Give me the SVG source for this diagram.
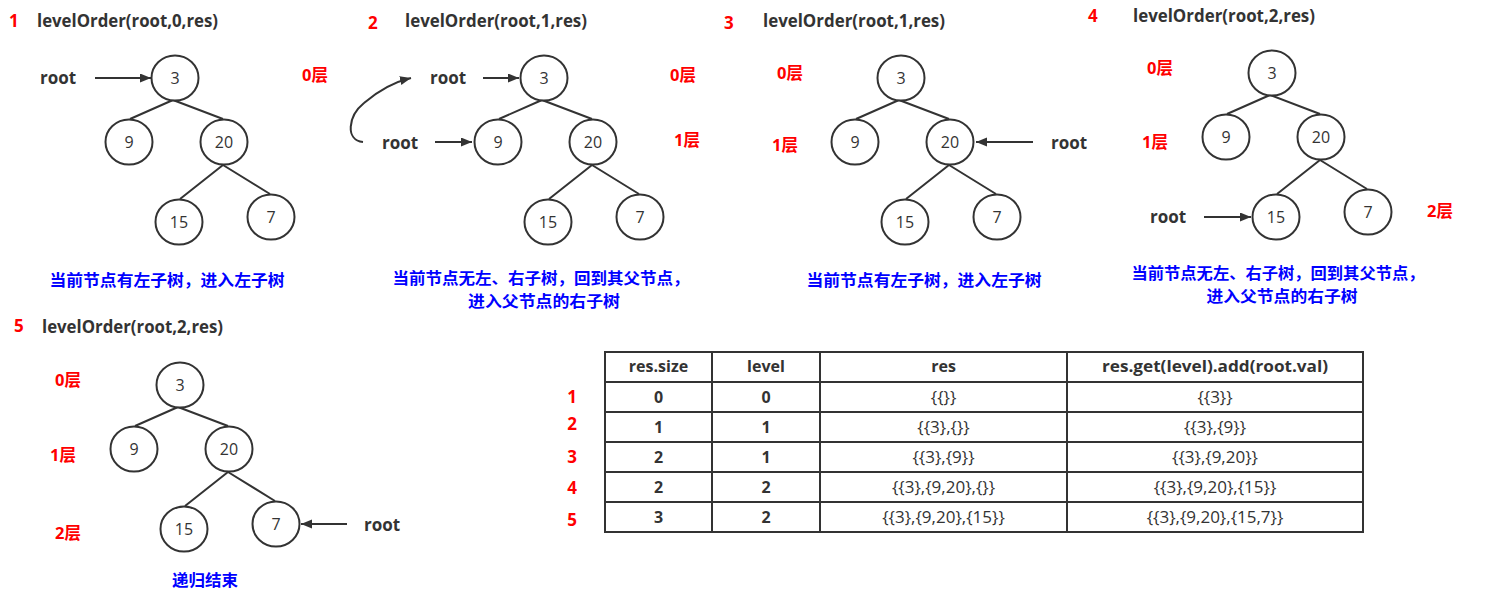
<svg xmlns="http://www.w3.org/2000/svg" width="1504" height="606" viewBox="0 0 1504 606">
<style>
.bg{fill:#ffffff}
.nd{fill:#ffffff;stroke:#333333;stroke-width:2}
.nt{font-family:"Open Sans","Liberation Sans",sans-serif;font-size:16px;fill:#333333;text-anchor:middle}
.ed{stroke:#333333;stroke-width:2;fill:none}
.ar{stroke:#333333;stroke-width:2;fill:none;marker-end:url(#ah)}
.ttl{font-family:"Open Sans","Liberation Sans",sans-serif;font-size:17px;font-weight:bold;fill:#333333}
.num{font-family:"Open Sans","Liberation Sans",sans-serif;font-size:17px;font-weight:bold;fill:#ff0000}
.root{font-family:"Open Sans","Liberation Sans",sans-serif;font-size:17px;font-weight:bold;fill:#333333}
.lay{font-family:"Open Sans","Noto Sans CJK SC",sans-serif;font-size:16.5px;font-weight:bold;fill:#ff0000}
.cap{font-family:"Noto Sans CJK SC",sans-serif;font-size:16px;font-weight:bold;fill:#0000ff;text-anchor:middle}
.cap2{font-family:"Noto Sans CJK SC",sans-serif;font-size:15.5px;font-weight:bold;fill:#0000ff;text-anchor:middle}
.tl{stroke:#333333;stroke-width:2;fill:none}
.th{font-family:"Open Sans","Liberation Sans",sans-serif;font-size:16px;font-weight:bold;fill:#333333;text-anchor:middle}
.tb{font-family:"Open Sans","Liberation Sans",sans-serif;font-size:16px;font-weight:bold;fill:#333333;text-anchor:middle}
.tr{font-family:"Open Sans","Liberation Sans",sans-serif;font-size:17px;fill:#333333;text-anchor:middle}
.rn{font-family:"Open Sans","Liberation Sans",sans-serif;font-size:17px;font-weight:bold;fill:#ff0000;text-anchor:middle}
</style>
<defs>
<marker id="ah" markerUnits="userSpaceOnUse" markerWidth="12" markerHeight="10" refX="11" refY="4.5" orient="auto">
<path d="M0,0 L11,4.5 L0,9 z" fill="#333333"/>
</marker>
</defs>
<rect class="bg" x="0" y="0" width="1504" height="606"/>

<!-- connectors -->
<g id="connectors">
  <g transform="translate(0,0)">
    <path class="ed" d="M173,100 L130,119 M173,100 L223,119 M223,165 L180,199 M223,165 L270,194"/>
  </g>
  <g transform="translate(369,0)">
    <path class="ed" d="M173,100 L130,119 M173,100 L223,119 M223,165 L180,199 M223,165 L270,194"/>
  </g>
  <g transform="translate(726,0)">
    <path class="ed" d="M173,100 L130,119 M173,100 L223,119 M223,165 L180,199 M223,165 L270,194"/>
  </g>
  <g transform="translate(1097,-5)">
    <path class="ed" d="M173,100 L130,119 M173,100 L223,119 M223,165 L180,199 M223,165 L270,194"/>
  </g>
  <g transform="translate(5,307)">
    <path class="ed" d="M173,100 L130,119 M173,100 L223,119 M223,165 L180,199 M223,165 L270,194"/>
  </g>
  <!-- root pointers -->
  <path class="ar" d="M95,78 L151,78"/>
  <path class="ar" d="M483,78 L519,78"/>
  <path class="ar" d="M435,142 L472,142"/>
  <path class="ar" d="M363,142 C345,140 348,116 364,103 C378,91 394,82 411,78"/>
  <path class="ar" d="M1033,142 L976,142"/>
  <path class="ar" d="M1204,217 L1251,217"/>
  <path class="ar" d="M347,524 L301,524"/>
</g>

<!-- panel 1 -->
<g id="panel1">
  <text class="num" x="9" y="27">1</text>
  <text class="ttl" x="37" y="27" textLength="181" lengthAdjust="spacingAndGlyphs">levelOrder(root,0,res)</text>
  <text class="root" x="40" y="84">root</text>
  <text class="lay" x="302" y="81">0层</text>
  <g id="p1-n3"><ellipse class="nd" cx="175" cy="78" rx="23.5" ry="22.5"/><text class="nt" x="175" y="84">3</text></g>
  <g id="p1-n9"><ellipse class="nd" cx="129" cy="142" rx="23.5" ry="22.5"/><text class="nt" x="129" y="148">9</text></g>
  <g id="p1-n20"><ellipse class="nd" cx="224" cy="142" rx="23.5" ry="22.5"/><text class="nt" x="224" y="148">20</text></g>
  <g id="p1-n15"><ellipse class="nd" cx="179" cy="222" rx="23.5" ry="22.5"/><text class="nt" x="179" y="228">15</text></g>
  <g id="p1-n7"><ellipse class="nd" cx="271" cy="217" rx="23.5" ry="22.5"/><text class="nt" x="271" y="223">7</text></g>
  <text class="cap" x="167" y="286" textLength="235" lengthAdjust="spacingAndGlyphs">当前节点有左子树，进入左子树</text>
</g>

<!-- panel 2 -->
<g id="panel2">
  <text class="num" x="368" y="29">2</text>
  <text class="ttl" x="405" y="27" textLength="182" lengthAdjust="spacingAndGlyphs">levelOrder(root,1,res)</text>
  <text class="root" x="430" y="84">root</text>
  <text class="root" x="382" y="149">root</text>
  <text class="lay" x="670" y="81">0层</text>
  <text class="lay" x="674" y="146">1层</text>
  <g id="p2-n3"><ellipse class="nd" cx="544" cy="78" rx="23.5" ry="22.5"/><text class="nt" x="544" y="84">3</text></g>
  <g id="p2-n9"><ellipse class="nd" cx="498" cy="142" rx="23.5" ry="22.5"/><text class="nt" x="498" y="148">9</text></g>
  <g id="p2-n20"><ellipse class="nd" cx="593" cy="142" rx="23.5" ry="22.5"/><text class="nt" x="593" y="148">20</text></g>
  <g id="p2-n15"><ellipse class="nd" cx="548" cy="222" rx="23.5" ry="22.5"/><text class="nt" x="548" y="228">15</text></g>
  <g id="p2-n7"><ellipse class="nd" cx="640" cy="217" rx="23.5" ry="22.5"/><text class="nt" x="640" y="223">7</text></g>
  <text class="cap2" x="541" y="284" textLength="297" lengthAdjust="spacingAndGlyphs">当前节点无左、右子树，回到其父节点，</text>
  <text class="cap2" x="544" y="306.5" textLength="152" lengthAdjust="spacingAndGlyphs">进入父节点的右子树</text>
</g>

<!-- panel 3 -->
<g id="panel3">
  <text class="num" x="724" y="29">3</text>
  <text class="ttl" x="763" y="27" textLength="182" lengthAdjust="spacingAndGlyphs">levelOrder(root,1,res)</text>
  <text class="root" x="1051" y="149">root</text>
  <text class="lay" x="777" y="79">0层</text>
  <text class="lay" x="772" y="151">1层</text>
  <g id="p3-n3"><ellipse class="nd" cx="901" cy="78" rx="23.5" ry="22.5"/><text class="nt" x="901" y="84">3</text></g>
  <g id="p3-n9"><ellipse class="nd" cx="855" cy="142" rx="23.5" ry="22.5"/><text class="nt" x="855" y="148">9</text></g>
  <g id="p3-n20"><ellipse class="nd" cx="950" cy="142" rx="23.5" ry="22.5"/><text class="nt" x="950" y="148">20</text></g>
  <g id="p3-n15"><ellipse class="nd" cx="905" cy="222" rx="23.5" ry="22.5"/><text class="nt" x="905" y="228">15</text></g>
  <g id="p3-n7"><ellipse class="nd" cx="997" cy="217" rx="23.5" ry="22.5"/><text class="nt" x="997" y="223">7</text></g>
  <text class="cap" x="924" y="286" textLength="235" lengthAdjust="spacingAndGlyphs">当前节点有左子树，进入左子树</text>
</g>

<!-- panel 4 -->
<g id="panel4">
  <text class="num" x="1088" y="22">4</text>
  <text class="ttl" x="1133" y="22" textLength="182" lengthAdjust="spacingAndGlyphs">levelOrder(root,2,res)</text>
  <text class="root" x="1150" y="223">root</text>
  <text class="lay" x="1147" y="74">0层</text>
  <text class="lay" x="1142" y="148">1层</text>
  <text class="lay" x="1427" y="217">2层</text>
  <g id="p4-n3"><ellipse class="nd" cx="1272" cy="73" rx="23.5" ry="22.5"/><text class="nt" x="1272" y="79">3</text></g>
  <g id="p4-n9"><ellipse class="nd" cx="1226" cy="137" rx="23.5" ry="22.5"/><text class="nt" x="1226" y="143">9</text></g>
  <g id="p4-n20"><ellipse class="nd" cx="1321" cy="137" rx="23.5" ry="22.5"/><text class="nt" x="1321" y="143">20</text></g>
  <g id="p4-n15"><ellipse class="nd" cx="1276" cy="217" rx="23.5" ry="22.5"/><text class="nt" x="1276" y="223">15</text></g>
  <g id="p4-n7"><ellipse class="nd" cx="1368" cy="212" rx="23.5" ry="22.5"/><text class="nt" x="1368" y="218">7</text></g>
  <text class="cap2" x="1278" y="279" textLength="293" lengthAdjust="spacingAndGlyphs">当前节点无左、右子树，回到其父节点，</text>
  <text class="cap2" x="1282" y="301.5" textLength="151" lengthAdjust="spacingAndGlyphs">进入父节点的右子树</text>
</g>

<!-- panel 5 -->
<g id="panel5">
  <text class="num" x="14" y="332">5</text>
  <text class="ttl" x="42" y="333" textLength="181" lengthAdjust="spacingAndGlyphs">levelOrder(root,2,res)</text>
  <text class="root" x="364" y="531">root</text>
  <text class="lay" x="55" y="386">0层</text>
  <text class="lay" x="50" y="461">1层</text>
  <text class="lay" x="55" y="539">2层</text>
  <g id="p5-n3"><ellipse class="nd" cx="180" cy="385" rx="23.5" ry="22.5"/><text class="nt" x="180" y="391">3</text></g>
  <g id="p5-n9"><ellipse class="nd" cx="134" cy="449" rx="23.5" ry="22.5"/><text class="nt" x="134" y="455">9</text></g>
  <g id="p5-n20"><ellipse class="nd" cx="229" cy="449" rx="23.5" ry="22.5"/><text class="nt" x="229" y="455">20</text></g>
  <g id="p5-n15"><ellipse class="nd" cx="184" cy="529" rx="23.5" ry="22.5"/><text class="nt" x="184" y="535">15</text></g>
  <g id="p5-n7"><ellipse class="nd" cx="276" cy="524" rx="23.5" ry="22.5"/><text class="nt" x="276" y="530">7</text></g>
  <text class="cap" x="205" y="586" textLength="66" lengthAdjust="spacingAndGlyphs">递归结束</text>
</g>

<!-- table -->
<g id="table">
  <rect class="tl" x="605" y="352" width="758" height="180"/>
  <path class="tl" d="M712,352 V532 M820,352 V532 M1067,352 V532 M605,382 H1363 M605,412 H1363 M605,442 H1363 M605,472 H1363 M605,502 H1363"/>
  <text class="th" x="658.5" y="372">res.size</text>
  <text class="th" x="766" y="372">level</text>
  <text class="th" x="943.5" y="372">res</text>
  <text class="th" x="1215" y="372" textLength="226" lengthAdjust="spacingAndGlyphs">res.get(level).add(root.val)</text>

  <text class="tb" x="658.5" y="403">0</text>
  <text class="tb" x="766" y="403">0</text>
  <text class="tr" x="943.5" y="403">{{}}</text>
  <text class="tr" x="1215" y="403">{{3}}</text>

  <text class="tb" x="658.5" y="433">1</text>
  <text class="tb" x="766" y="433">1</text>
  <text class="tr" x="943.5" y="433">{{3},{}}</text>
  <text class="tr" x="1215" y="433">{{3},{9}}</text>

  <text class="tb" x="658.5" y="463">2</text>
  <text class="tb" x="766" y="463">1</text>
  <text class="tr" x="943.5" y="463">{{3},{9}}</text>
  <text class="tr" x="1215" y="463">{{3},{9,20}}</text>

  <text class="tb" x="658.5" y="493">2</text>
  <text class="tb" x="766" y="493">2</text>
  <text class="tr" x="943.5" y="493">{{3},{9,20},{}}</text>
  <text class="tr" x="1215" y="493">{{3},{9,20},{15}}</text>

  <text class="tb" x="658.5" y="523">3</text>
  <text class="tb" x="766" y="523">2</text>
  <text class="tr" x="943.5" y="523">{{3},{9,20},{15}}</text>
  <text class="tr" x="1215" y="523">{{3},{9,20},{15,7}}</text>

  <text class="rn" x="572" y="403">1</text>
  <text class="rn" x="572" y="430">2</text>
  <text class="rn" x="572" y="463">3</text>
  <text class="rn" x="572" y="494">4</text>
  <text class="rn" x="572" y="526">5</text>
</g>
</svg>
